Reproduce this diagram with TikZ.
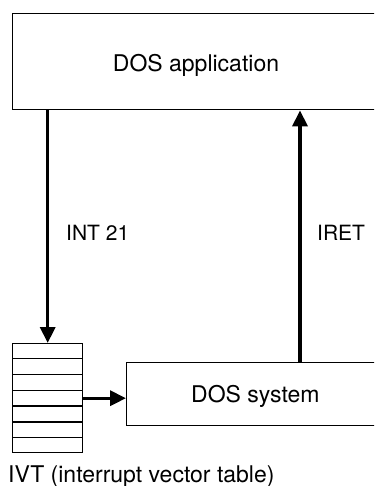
\documentclass[tikz,border=0pt]{standalone}
\usepackage{fontspec}
\setmainfont{TeX Gyre Heros}
\usetikzlibrary{positioning, arrows.meta, calc}
\tikzset{
    box/.style={draw, line width=1.4pt, rectangle, inner sep=0pt}, % plain outlined boxes
    flow/.style={line width=3.4pt, -{Triangle[length=16pt, width=15pt]}}, % the heavy arrows
    txt/.style={inner sep=0pt, font=\fontsize{23}{27}\selectfont}, % box texts and caption
    tag/.style={inner sep=0pt, font=\fontsize{21}{25}\selectfont}, % arrow labels
}

\begin{document}
\begin{tikzpicture}[x=1pt, y=-1pt]
    \useasboundingbox (0,0) rectangle (374,486);
    \clip (0,0) rectangle (374,486);

    % boxes
    \node[box, anchor=north west, minimum width=370pt, minimum height=96pt] (app) at (12,13) {};
    \node[box, anchor=north west, minimum width=70pt, minimum height=109pt] (ivt) at (12,343) {};
    \node[box, anchor=north west, minimum width=260pt, minimum height=63pt] (sys) at (126,362) {};
    \foreach \i in {1,...,6}
        \draw[line width=1.4pt] ($(ivt.north west)!\i/7!(ivt.south west)$) -- ($(ivt.north east)!\i/7!(ivt.south east)$);

    % texts
    \node[txt, anchor=base] (apptext) at (196,72) {DOS application};
    \node[txt, anchor=base west] (systext) at (191,402) {DOS system};
    \node[tag, anchor=base west] (int) at (66,240) {INT 21};
    \node[tag, anchor=base west] (iret) at (317,240) {IRET};
    \node[txt, anchor=base west] (ivtlabel) at (8,482) {IVT (interrupt vector table)};

    % arrows
    \draw[flow] (ivt.north |- app.south) -- (ivt.north);
    \draw[flow] (ivt.east) -- (ivt.east -| sys.west);
    \draw[flow] ([xshift=174pt]sys.north west) -- ([xshift=174pt]sys.north west |- app.south);
\end{tikzpicture}
\end{document}
